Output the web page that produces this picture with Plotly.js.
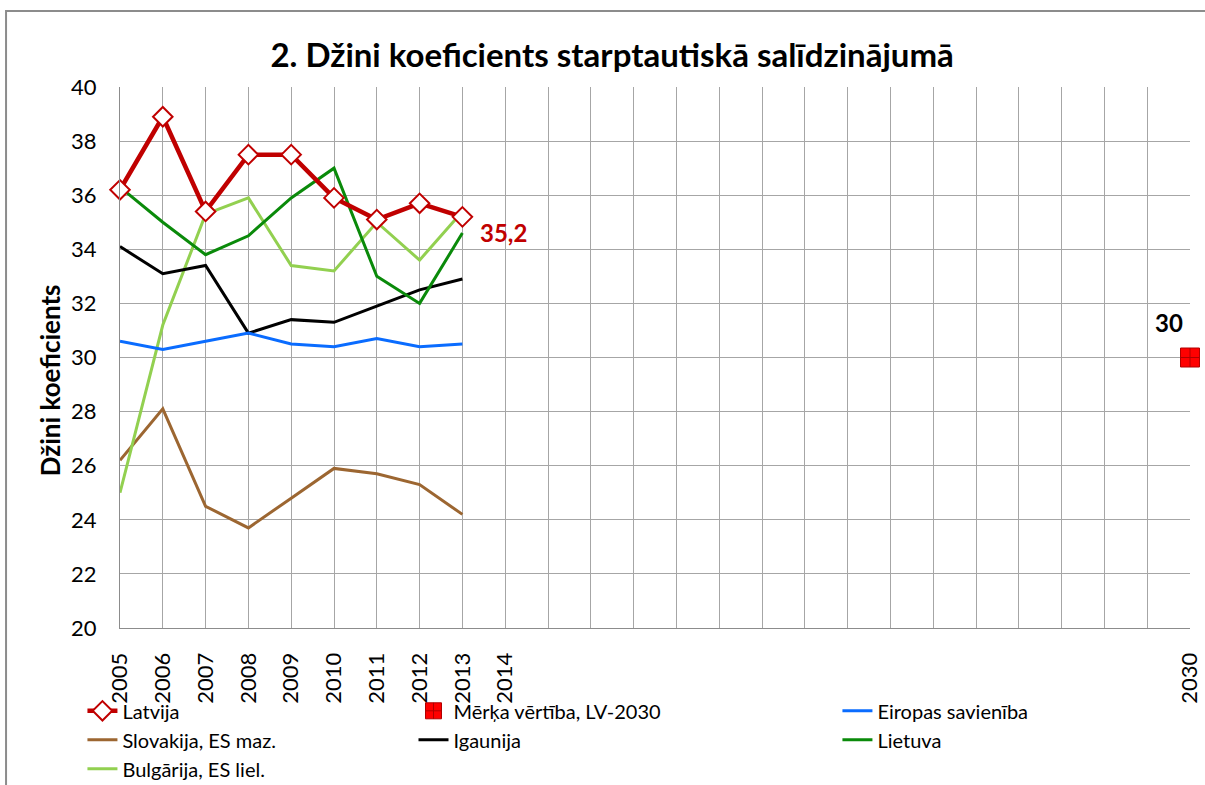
<!DOCTYPE html>
<html>
<head>
<meta charset="utf-8">
<script src="https://cdn.plot.ly/plotly-3.0.1.min.js"></script>
<style>html,body{margin:0;padding:0;background:#fff}#chart{width:1205px;height:785px}</style>
</head>
<body>
<div id="chart"></div>
<script>
// Category axis: every year 2005..2030
const years = [2005,2006,2007,2008,2009,2010,2011,2012,2013,2014,2015,2016,2017,2018,2019,2020,2021,2022,2023,2024,2025,2026,2027,2028,2029,2030];
const labelledYears = [2005,2006,2007,2008,2009,2010,2011,2012,2013,2014,2030];
const dataYears = [2005,2006,2007,2008,2009,2010,2011,2012,2013];

const latvija    = [36.2, 38.9, 35.4, 37.5, 37.5, 35.9, 35.1, 35.7, 35.2];
const eu         = [30.6, 30.3, 30.6, 30.9, 30.5, 30.4, 30.7, 30.4, 30.5];
const slovakija  = [26.2, 28.1, 24.5, 23.7, 24.8, 25.9, 25.7, 25.3, 24.2];
const igaunija   = [34.1, 33.1, 33.4, 30.9, 31.4, 31.3, 31.9, 32.5, 32.9];
const lietuva    = [36.3, 35.0, 33.8, 34.5, 35.9, 37.0, 33.0, 32.0, 34.6];
const bulgarija  = [25.0, 31.2, 35.3, 35.9, 33.4, 33.2, 35.0, 33.6, 35.4];
const targetYear = [2030];
const targetVal  = [30];

const names = {
  lv: 'Latvija', target: 'Mērķa vērtība, LV-2030', eu: 'Eiropas savienība',
  sk: 'Slovakija, ES maz.', ee: 'Igaunija', lt: 'Lietuva', bg: 'Bulgārija, ES liel.'
};
const yTitle = 'Džini koeficients';

const FONT = 'Lato, "Open Sans", sans-serif';
const tickText = years.map(y => labelledYears.includes(y) ? String(y) : '');

const traces = [
  {x: dataYears, y: slovakija, name: names.sk, mode: 'lines', line: {color: '#9c6631', width: 3}, legend: 'legend', legendrank: 2},
  {x: dataYears, y: bulgarija, name: names.bg, mode: 'lines', line: {color: '#92d050', width: 3}, legend: 'legend', legendrank: 3},
  {x: dataYears, y: igaunija, name: names.ee, mode: 'lines', line: {color: '#000000', width: 3}, legend: 'legend2', legendrank: 2},
  {x: dataYears, y: eu, name: names.eu, mode: 'lines', line: {color: '#0a6cff', width: 3}, legend: 'legend3', legendrank: 1},
  {x: dataYears, y: lietuva, name: names.lt, mode: 'lines', line: {color: '#0a8a0a', width: 3}, legend: 'legend3', legendrank: 2},
  {x: targetYear, y: targetVal, name: names.target, mode: 'markers', cliponaxis: false,
   marker: {symbol: 'square-cross', size: 19, color: '#ff0000', line: {color: '#b00000', width: 1}}, legend: 'legend2', legendrank: 1},
  {x: dataYears, y: latvija, name: names.lv, mode: 'lines+markers', cliponaxis: false,
   line: {color: '#c00000', width: 4.5},
   marker: {symbol: 'diamond', size: 15, color: '#ffffff', line: {color: '#c00000', width: 2}}, legend: 'legend', legendrank: 1}
];

const legendBase = {orientation: 'v', yanchor: 'top', xanchor: 'left', y: -0.117,
  font: {family: FONT, size: 20, color: '#000'}, bgcolor: 'rgba(0,0,0,0)', tracegroupgap: 0, itemwidth: 30, traceorder: 'normal'};

const layout = {
  width: 1205, height: 785,
  margin: {l: 120, r: 15, t: 87, b: 157, autoexpand: false},
  paper_bgcolor: '#ffffff', plot_bgcolor: '#ffffff',
  showlegend: true,
  hovermode: false,
  title: {text: '<b>2. Džini koeficients starptautiskā salīdzinājumā</b>', x: 0.508, xanchor: 'center', y: 0.93, yanchor: 'middle',
          font: {family: FONT, size: 33, color: '#000'}},
  xaxis: {
    range: [2005, 2030], tickmode: 'array', tickvals: years, ticktext: tickText, tickangle: -90,
    showgrid: true, gridcolor: '#a6a6a6', gridwidth: 1,
    showline: true, linecolor: '#8c8c8c', linewidth: 1,
    ticks: '', ticklabelstandoff: 15,
    tickfont: {family: FONT, size: 22, color: '#000'}, zeroline: false, fixedrange: true
  },
  yaxis: {
    range: [20, 40], dtick: 2, tick0: 20,
    showgrid: true, gridcolor: '#a6a6a6', gridwidth: 1,
    showline: true, linecolor: '#8c8c8c', linewidth: 1,
    ticks: '', ticklabelstandoff: 18,
    tickfont: {family: FONT, size: 22, color: '#000'}, zeroline: false, fixedrange: true
  },
  legend:  Object.assign({}, legendBase, {x: -0.0351}),
  legend2: Object.assign({}, legendBase, {x: 0.2743}),
  legend3: Object.assign({}, legendBase, {x: 0.6705}),
  shapes: [
    {type: 'rect', xref: 'paper', yref: 'paper', x0: -0.1065, x1: 1.1, y0: -0.4, y1: 1.1405,
     line: {color: '#8c8c8c', width: 2}, fillcolor: 'rgba(0,0,0,0)', layer: 'below'}
  ],
  annotations: [
    {x: 0, y: 0.458, xref: 'paper', yref: 'paper', text: '<b>' + yTitle + '</b>', textangle: -90,
     showarrow: false, xanchor: 'center', yanchor: 'middle', xshift: -70,
     font: {family: FONT, size: 26, color: '#000'}},
    {x: dataYears[dataYears.length - 1], y: latvija[latvija.length - 1], xref: 'x', yref: 'y',
     text: '<b>' + String(latvija[latvija.length - 1]).replace('.', ',') + '</b>', showarrow: false,
     xanchor: 'left', yanchor: 'middle', xshift: 16, yshift: -16,
     font: {family: FONT, size: 24, color: '#c00000'}},
    {x: targetYear[0], y: targetVal[0], xref: 'x', yref: 'y',
     text: '<b>' + targetVal[0] + '</b>', showarrow: false,
     xanchor: 'center', yanchor: 'middle', xshift: -21, yshift: 35,
     font: {family: FONT, size: 24, color: '#000'}}
  ]
};

Plotly.newPlot('chart', traces, layout, {displayModeBar: false, staticPlot: true});
</script>
</body>
</html>
